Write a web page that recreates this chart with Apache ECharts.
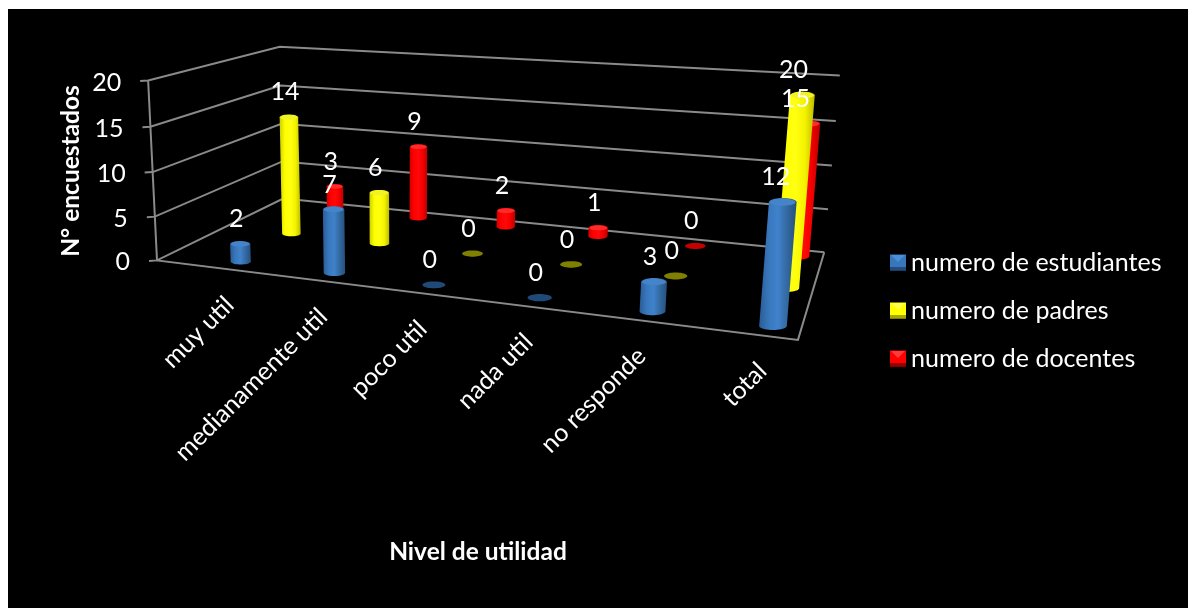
<!DOCTYPE html>
<html>
<head>
<meta charset="utf-8">
<style>html,body{margin:0;padding:0;background:#fff}#chart{width:1188px;height:608px}</style>
<script src="https://cdn.jsdelivr.net/npm/echarts@6/dist/echarts.min.js"></script>
</head>
<body>
<div id="chart"></div>
<script>
// Encuesta: utilidad percibida por estudiantes, padres y docentes
const categories = ['muy util', 'medianamente util', 'poco util', 'nada util', 'no responde', 'total'];
const estudiantes = [2, 7, 0, 0, 3, 12];
const padres = [14, 6, 0, 0, 0, 20];
const docentes = [3, 9, 2, 1, 0, 15];
const valueTicks = [0, 5, 10, 15, 20];
const seriesNames = ['numero de estudiantes', 'numero de padres', 'numero de docentes'];

const FONT = 'Lato, "Open Sans", sans-serif';

// Camera: [u along categories, v into the depth, w up] -> screen pixel
const cameraAnchors = [
  [0, 0, 0, 160, 259], [0, 0, 1, 145, 81],
  [0, 1, 0, 280, 200], [0, 1, 1, 283, 46],
  [1, 1, 0, 825, 251], [1, 1, 1, 839, 76],
  [1, 0, 0, 798, 341]
];
// Rows of cylinders inside the floor
const rowDepth = [0.1, 0.505, 0.91];
const ROW_SHIFT_U = 0.046;

function solveCamera(anchors) {
  const rows = [], rhs = [];
  anchors.forEach(([u, v, w, x, y]) => {
    rows.push([1, u, v, w, 0, 0, 0, 0, -x * u, -x * v, -x * w]); rhs.push(x);
    rows.push([0, 0, 0, 0, 1, u, v, w, -y * u, -y * v, -y * w]); rhs.push(y);
  });
  const n = 11;
  const M = [];
  for (let i = 0; i < n; i++) {
    M.push([]);
    for (let j = 0; j <= n; j++) {
      let s = 0;
      rows.forEach((r, k) => { s += r[i] * (j === n ? rhs[k] : r[j]); });
      M[i].push(s);
    }
  }
  for (let c = 0; c < n; c++) {
    let p = c;
    for (let r = c + 1; r < n; r++) if (Math.abs(M[r][c]) > Math.abs(M[p][c])) p = r;
    [M[c], M[p]] = [M[p], M[c]];
    for (let r = 0; r < n; r++) {
      if (r === c) continue;
      const f = M[r][c] / M[c][c];
      for (let j = c; j <= n; j++) M[r][j] -= f * M[c][j];
    }
  }
  return M.map((r, i) => r[n] / r[i]);
}
const cam = solveCamera(cameraAnchors);
function project(u, v, w) {
  const d = 1 + cam[8] * u + cam[9] * v + cam[10] * w;
  return [(cam[0] + cam[1] * u + cam[2] * v + cam[3] * w) / d,
          (cam[4] + cam[5] * u + cam[6] * v + cam[7] * w) / d];
}

function hull(points) {
  const pts = points.slice().sort((a, b) => a[0] - b[0] || a[1] - b[1]);
  const cross = (o, a, b) => (a[0] - o[0]) * (b[1] - o[1]) - (a[1] - o[1]) * (b[0] - o[0]);
  const half = list => {
    const out = [];
    list.forEach(p => {
      while (out.length > 1 && cross(out[out.length - 2], out[out.length - 1], p) <= 0) out.pop();
      out.push(p);
    });
    out.pop();
    return out;
  };
  return half(pts).concat(half(pts.slice().reverse()));
}
function ellipse(c, rx, ry) {
  const out = [];
  for (let i = 0; i < 40; i++) {
    const t = i / 40 * Math.PI * 2;
    out.push([c[0] + rx * Math.cos(t), c[1] + ry * Math.sin(t)]);
  }
  return out;
}
const gradient = stops => new echarts.graphic.LinearGradient(0, 0, 1, 0,
  stops.map((color, i) => ({ offset: i / (stops.length - 1), color })));

// Plot-plane coordinates from the cartesian grid, as unit u / w
function unit(params, api, cat, value) {
  const rect = params.coordSys;
  const p = api.coord([cat, value]);
  return [(p[0] - rect.x) / rect.width, (rect.y + rect.height - p[1]) / rect.height];
}

const palette = [
  { body: ['#2a5c97', '#3877bb', '#3f82cc', '#33699f', '#25507f'], cap: '#4684c9', flat: '#1f4a78' },
  { body: ['#cfcf00', '#ffff00', '#ffff10', '#f4f400', '#bcbc00'], cap: '#f2f228', flat: '#7f7f00' },
  { body: ['#d00000', '#ff0000', '#ff0808', '#f20000', '#bb0000'], cap: '#ff2a2a', flat: '#c40000' }
];
const RADIUS_U = [0.0185, 0.018, 0.017], FLATTEN = 0.3;
const labelShift = { 5: [-7, -9, -14] };

function cylinders(seriesIndex) {
  const v = rowDepth[seriesIndex];
  const colors = palette[seriesIndex];
  const radius = RADIUS_U[seriesIndex];
  return function (params, api) {
    const cat = api.value(0), value = api.value(1);
    const [plainU, w] = unit(params, api, cat, value);
    const u = plainU + ROW_SHIFT_U;
    const base = project(u, v, 0), top = project(u, v, w);
    const a = project(u - radius, v, 0), b = project(u + radius, v, 0);
    const rx = Math.abs(b[0] - a[0]) / 2, ry = rx * FLATTEN;
    const children = [];
    const topRing = ellipse(top, rx, ry);
    if (value > 0) {
      children.push({ type: 'polygon', shape: { points: hull(topRing.concat(ellipse(base, rx, ry))) },
        style: { fill: gradient(colors.body) } });
      children.push({ type: 'polygon', shape: { points: ellipse(top, rx * 0.92, ry * 0.85) },
        style: { fill: colors.cap } });
    } else {
      children.push({ type: 'polygon', shape: { points: topRing }, style: { fill: colors.flat } });
    }
    const shift = labelShift[cat] ? labelShift[cat][seriesIndex] : -4;
    children.push({ type: 'text', z2: 100, x: top[0] + shift, y: top[1] - 25,
      style: { text: String(value), fill: '#fff', font: '25px ' + FONT, align: 'center', verticalAlign: 'middle' } });
    return { type: 'group', children };
  };
}

function axisFrame(params, api) {
  const tick = api.value(1);
  const w = unit(params, api, 0, tick)[1];
  const line = { stroke: '#8a8a8a', lineWidth: 2, fill: null };
  const fl = project(0, 0, w), bl = project(0, 1, w), br = project(1, 1, w);
  const children = [
    { type: 'polyline', shape: { points: [[fl[0] - 8, fl[1] + 0.5], fl, bl, br] }, style: line },
    { type: 'text', x: fl[0] - 27, y: fl[1] + 2,
      style: { text: String(tick), fill: '#fff', font: '25px ' + FONT, align: 'right', verticalAlign: 'middle' } }
  ];
  if (tick === 0) {
    const fr = project(1, 0, 0), topLeft = project(0, 0, 1);
    children.push({ type: 'polyline', shape: { points: [topLeft, fl, fr, br] }, style: line });
  }
  return { type: 'group', children };
}

function categoryLabel(params, api) {
  const cat = api.value(0);
  const u = unit(params, api, cat, 0)[0];
  const p = project(u, 0, 0);
  return { type: 'text', x: p[0] + 28, y: p[1] + 35, rotation: Math.PI / 4,
    style: { text: categories[cat], fill: '#fff', font: '25px ' + FONT, align: 'right', verticalAlign: 'middle' } };
}

const seriesValues = [estudiantes, padres, docentes];
const barSeries = [2, 1, 0].map(s => ({
  type: 'custom', name: seriesNames[s], coordinateSystem: 'cartesian2d',
  renderItem: cylinders(s), itemStyle: { color: palette[s].body[1] },
  encode: { x: 0, y: 1 }, data: seriesValues[s].map((val, i) => [i, val])
}));

// Bevelled legend keys
const keyY = [254, 302, 350];
const bevels = [['#4b8fd6', '#234d7e'], ['#ffff4d', '#a8a800'], ['#ff3a3a', '#9c0000']];
const keyGraphics = [];
keyY.forEach((y, i) => {
  keyGraphics.push({ type: 'polygon', z: 10, shape: { points: [[891, y + 1], [905, y + 1], [898, y + 8]] }, style: { fill: bevels[i][0] } });
  keyGraphics.push({ type: 'rect', z: 10, shape: { x: 890, y: y + 13, width: 16, height: 3 }, style: { fill: bevels[i][1] } });
});

const chart = echarts.init(document.getElementById('chart'), null, { renderer: 'canvas' });
chart.setOption({
  animation: false,
  backgroundColor: '#fff',
  grid: { left: 160, right: 390, top: 80, bottom: 268 },
  xAxis: { type: 'category', data: categories, show: false },
  yAxis: { type: 'value', min: 0, max: 20, interval: 5, show: false },
  legend: {
    orient: 'vertical', left: 890, top: 250, padding: 0, itemWidth: 16, itemHeight: 16, itemGap: 23,
    icon: 'rect', data: seriesNames, selectedMode: false,
    textStyle: { color: '#fff', fontSize: 25, fontFamily: FONT }
  },
  graphic: [
    { type: 'rect', z: -10, shape: { x: 8, y: 9, width: 1180, height: 599 }, style: { fill: '#000' } },
    { type: 'text', z: 5, x: 71, y: 171, rotation: Math.PI / 2, style: { text: 'N° encuestados', fill: '#fff', font: 'bold 24.5px ' + FONT, align: 'center', verticalAlign: 'middle' } },
    { type: 'text', z: 5, x: 478, y: 552, style: { text: 'Nivel de utilidad', fill: '#fff', font: 'bold 24.5px ' + FONT, align: 'center', verticalAlign: 'middle' } }
  ].concat(keyGraphics),
  series: [
    { type: 'custom', name: 'ejes', coordinateSystem: 'cartesian2d', renderItem: axisFrame, silent: true,
      encode: { x: 0, y: 1 }, data: valueTicks.map(t => [0, t]) },
    { type: 'custom', name: 'categorias', coordinateSystem: 'cartesian2d', renderItem: categoryLabel, silent: true,
      encode: { x: 0, y: 1 }, data: categories.map((c, i) => [i, 0]) }
  ].concat(barSeries)
});
</script>
</body>
</html>
